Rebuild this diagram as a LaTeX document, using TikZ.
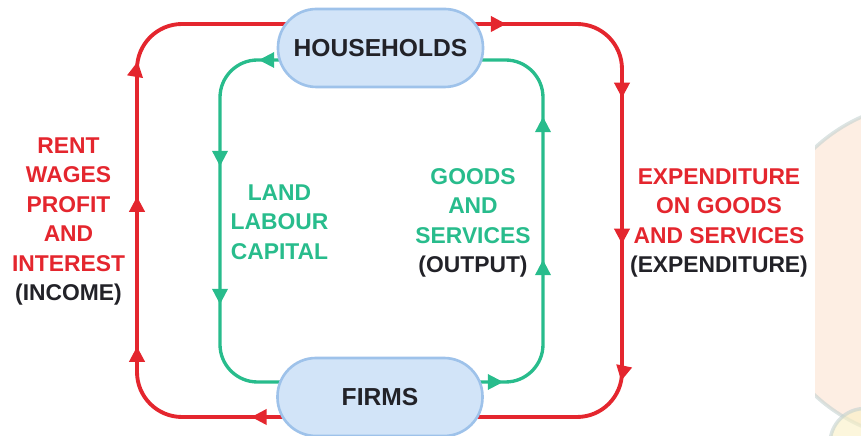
\documentclass[tikz,border=0pt]{standalone}
\usepackage{fontspec}
\setmainfont{Liberation Sans}
\usetikzlibrary{arrows.meta,decorations.markings,backgrounds}

\definecolor{flowred}{RGB}{228,38,46}
\definecolor{flowgreen}{RGB}{40,188,140}
\definecolor{sectorfill}{RGB}{210,228,248}
\definecolor{sectorline}{RGB}{158,194,234}
\definecolor{darktext}{RGB}{34,34,40}
\definecolor{markpeach}{RGB}{252,226,208}
\definecolor{markring}{RGB}{196,210,208}
\definecolor{markyellow}{RGB}{250,240,196}

\tikzset{
  sector/.style={draw=sectorline, line width=1.5pt, fill=sectorfill,
    rounded corners=0.77cm, minimum width=4.1cm, minimum height=1.56cm,
    font=\fontsize{14}{16}\selectfont\bfseries, text=darktext},
  money/.style={draw=flowred, line width=2.2pt, rounded corners=0.9cm},
  real/.style={draw=flowgreen, line width=1.9pt, rounded corners=0.75cm},
  flowat/.style={postaction={decorate, decoration={markings,
    mark=at position #1 with {\arrow{Triangle[length=0.31cm,width=0.3cm]}}}}},
  caption/.style={align=center, font=\fontsize{13}{16.8}\selectfont\bfseries},
}

\begin{document}
\begin{tikzpicture}
    \useasboundingbox (0,0) rectangle (17.22,8.72);

    % faint logo at the right edge
    \begin{scope}
        \clip (16.3,0) rectangle (17.22,8.72);
        \draw[markring, line width=2pt, fill=markpeach, opacity=0.6] (18.6,3.29) circle[radius=3.38];
        \draw[markring, line width=2pt, fill=markyellow, opacity=0.6] (17.3,-0.15) circle[radius=0.7];
    \end{scope}

    % the two sectors
    \node[sector] (hh) at (7.61,7.76) {HOUSEHOLDS};
    \node[sector] (firms) at (7.60,0.78) {FIRMS};

    % side lines of the loops
    \coordinate (incomeside) at (2.74,4.3);
    \coordinate (factorside) at (4.40,4.3);
    \coordinate (goodsside) at (10.86,4.3);
    \coordinate (spendside) at (12.44,4.3);

    \begin{pgfonlayer}{background}
        % money flows
        \draw[money, flowat=0.76cm, flowat=4.07cm, flowat=7.07cm, flowat=9.77cm]
            ([shift={(0.26,-0.4)}]firms.west) -| (incomeside) |- ([shift={(0.26,0.48)}]hh.west);
        \draw[money, flowat=0.70cm, flowat=4.11cm, flowat=7.03cm, flowat=9.77cm]
            ([shift={(-0.26,0.48)}]hh.east) -| (spendside) |- ([shift={(-0.26,-0.4)}]firms.east);

        % real flows
        \draw[real, flowat=0.56cm, flowat=3.14cm, flowat=5.90cm]
            ([shift={(0.2,-0.24)}]hh.west) -| (factorside) |- ([shift={(0.26,0.3)}]firms.west);
        \draw[real, flowat=0.59cm, flowat=3.51cm, flowat=6.37cm]
            ([shift={(-0.2,0.3)}]firms.east) -| (goodsside) |- ([shift={(-0.2,-0.24)}]hh.east);
    \end{pgfonlayer}

    \node[caption, text=flowred] (income) at (1.37,4.29)
        {RENT\\WAGES\\PROFIT\\AND\\INTEREST\\\textcolor{darktext}{(INCOME)}};
    \node[caption, text=flowgreen] (factors) at (5.59,4.28)
        {LAND\\LABOUR\\CAPITAL};
    \node[caption, text=flowgreen] (output) at (9.46,4.26)
        {GOODS\\AND\\SERVICES\\\textcolor{darktext}{(OUTPUT)}};
    \node[caption, text=flowred] (spending) at (14.38,4.26)
        {EXPENDITURE\\ON GOODS\\AND SERVICES\\\textcolor{darktext}{(EXPENDITURE)}};
\end{tikzpicture}
\end{document}
